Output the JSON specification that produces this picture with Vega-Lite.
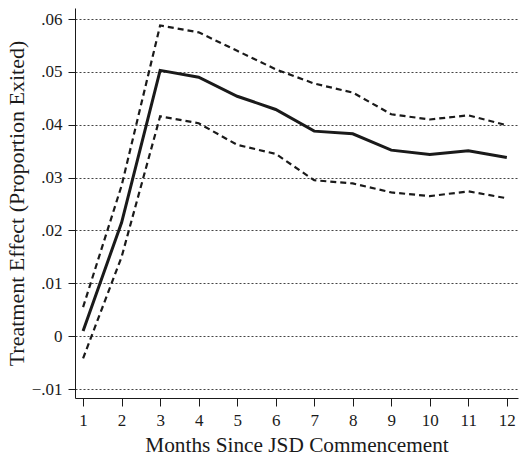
{
  "$schema": "https://vega.github.io/schema/vega-lite/v6.json",
  "width": 443,
  "height": 390,
  "autosize": "none",
  "padding": {"left": 75, "top": 8, "right": 9, "bottom": 58},
  "background": "white",
  "config": {
    "view": {"stroke": null},
    "font": "Liberation Serif",
    "axis": {"labelFont": "Liberation Serif", "titleFont": "Liberation Serif", "titleFontWeight": "normal", "labelColor": "#1a1a1a", "titleColor": "#1a1a1a", "domainColor": "#1a1a1a", "tickColor": "#1a1a1a"}
  },
  "data": {
    "values": [
      {"month": 1, "series": "est", "value": 0.001},
      {"month": 2, "series": "est", "value": 0.0215},
      {"month": 3, "series": "est", "value": 0.0503},
      {"month": 4, "series": "est", "value": 0.049},
      {"month": 5, "series": "est", "value": 0.0454},
      {"month": 6, "series": "est", "value": 0.0429},
      {"month": 7, "series": "est", "value": 0.0388},
      {"month": 8, "series": "est", "value": 0.0383},
      {"month": 9, "series": "est", "value": 0.0352},
      {"month": 10, "series": "est", "value": 0.0344},
      {"month": 11, "series": "est", "value": 0.0351},
      {"month": 12, "series": "est", "value": 0.0338},
      {"month": 1, "series": "upper", "value": 0.0055},
      {"month": 2, "series": "upper", "value": 0.0285},
      {"month": 3, "series": "upper", "value": 0.0588},
      {"month": 4, "series": "upper", "value": 0.0575},
      {"month": 5, "series": "upper", "value": 0.054},
      {"month": 6, "series": "upper", "value": 0.0505},
      {"month": 7, "series": "upper", "value": 0.0478},
      {"month": 8, "series": "upper", "value": 0.0461},
      {"month": 9, "series": "upper", "value": 0.042},
      {"month": 10, "series": "upper", "value": 0.041},
      {"month": 11, "series": "upper", "value": 0.0418},
      {"month": 12, "series": "upper", "value": 0.0399},
      {"month": 1, "series": "lower", "value": -0.0042},
      {"month": 2, "series": "lower", "value": 0.015},
      {"month": 3, "series": "lower", "value": 0.0416},
      {"month": 4, "series": "lower", "value": 0.0403},
      {"month": 5, "series": "lower", "value": 0.0362},
      {"month": 6, "series": "lower", "value": 0.0345},
      {"month": 7, "series": "lower", "value": 0.0295},
      {"month": 8, "series": "lower", "value": 0.0289},
      {"month": 9, "series": "lower", "value": 0.0272},
      {"month": 10, "series": "lower", "value": 0.0265},
      {"month": 11, "series": "lower", "value": 0.0274},
      {"month": 12, "series": "lower", "value": 0.0261}
    ]
  },
  "encoding": {
    "x": {
      "field": "month", "type": "quantitative",
      "scale": {"domain": [0.79, 12.29], "nice": false, "zero": false},
      "axis": {"values": [1,2,3,4,5,6,7,8,9,10,11,12], "grid": false, "title": "Months Since JSD Commencement", "labelFontSize": 17, "titleFontSize": 21.3, "tickSize": 8, "labelPadding": 6, "titlePadding": 6}
    },
    "y": {
      "field": "value", "type": "quantitative",
      "scale": {"domain": [-0.0117, 0.0621], "nice": false, "zero": false},
      "axis": {"values": [-0.01, 0, 0.01, 0.02, 0.03, 0.04, 0.05, 0.06], "labelExpr": "datum.value == 0 ? '0' : replace(format(datum.value, '.2f'), '0.', '.')", "grid": true, "gridColor": "#444444", "gridDash": [2, 2], "gridWidth": 1, "title": "Treatment Effect (Proportion Exited)", "labelFontSize": 17, "titleFontSize": 22, "tickSize": 7, "labelPadding": 6, "titlePadding": 3}
    },
    "detail": {"field": "series"}
  },
  "layer": [
    {
      "transform": [{"filter": "datum.series != 'est'"}],
      "mark": {"type": "line", "color": "#1a1a1a", "strokeWidth": 2.2, "strokeDash": [6, 4]}
    },
    {
      "transform": [{"filter": "datum.series == 'est'"}],
      "mark": {"type": "line", "color": "#1a1a1a", "strokeWidth": 3}
    }
  ]
}
